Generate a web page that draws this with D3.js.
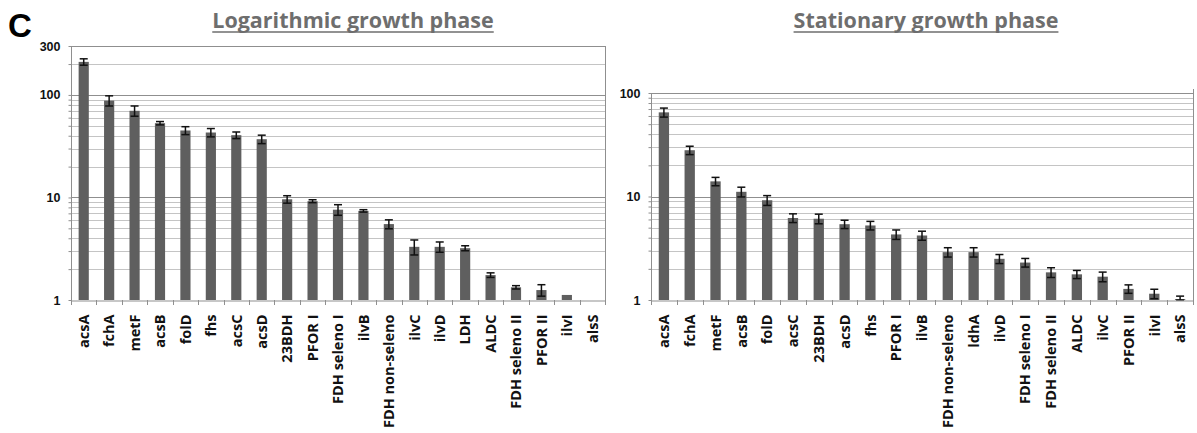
<!DOCTYPE html>
<html>
<head>
<meta charset="utf-8">
<script src="https://cdn.jsdelivr.net/npm/d3@7"></script>
<style>
  body { margin: 0; background: #fff; }
  svg { display: block; }
</style>
</head>
<body>
<script>
// Relative expression, log scale, two growth phases

const logGenes = ['acsA', 'fchA', 'metF', 'acsB', 'folD', 'fhs', 'acsC', 'acsD', '23BDH', 'PFOR I',
  'FDH seleno I', 'ilvB', 'FDH non-seleno', 'ilvC', 'ilvD', 'LDH', 'ALDC', 'FDH seleno II', 'PFOR II', 'ilvI', 'alsS'];
const logValues = [210, 88, 70, 53, 45, 43, 40.5, 37, 9.6, 9.2,
  7.6, 7.4, 5.5, 3.3, 3.3, 3.2, 1.75, 1.33, 1.25, 1.12, 1.0];
const logErrors = [15, 10, 8, 2, 4, 4, 3, 3.5, 0.8, 0.3,
  0.9, 0.2, 0.55, 0.55, 0.38, 0.18, 0.09, 0.05, 0.16, 0, 0];
const logTicks = [1, 10, 100, 300];

const statGenes = ['acsA', 'fchA', 'metF', 'acsB', 'folD', 'acsC', '23BDH', 'acsD', 'fhs', 'PFOR I',
  'ilvB', 'FDH non-seleno', 'ldhA', 'ilvD', 'FDH seleno I', 'FDH seleno II', 'ALDC', 'ilvC', 'PFOR II', 'ilvI', 'alsS'];
const statValues = [65, 28, 14, 11.1, 9.2, 6.2, 6.1, 5.4, 5.25, 4.3,
  4.2, 2.9, 2.9, 2.5, 2.3, 1.85, 1.77, 1.68, 1.28, 1.15, 1.02];
const statErrors = [6.5, 2.6, 1.3, 1.2, 1.0, 0.6, 0.65, 0.5, 0.5, 0.45,
  0.42, 0.3, 0.3, 0.25, 0.22, 0.2, 0.16, 0.18, 0.12, 0.12, 0.07];
const statTicks = [1, 10, 100];

const svg = d3.select('body').append('svg')
  .attr('width', 1197)
  .attr('height', 433);

// panel letter
svg.append('text')
  .attr('x', 8).attr('y', 37)
  .attr('font-family', 'Liberation Sans, Arial, sans-serif')
  .attr('font-weight', 'bold')
  .attr('font-size', 33)
  .text('C');

function drawPanel(p) {
  const x = d3.scaleBand()
    .domain(p.genes)
    .range([p.left, p.right])
    .paddingInner(0.6)
    .paddingOuter(0.3);
  const y = d3.scaleLog()
    .domain([1, p.max])
    .range([p.bottom, p.top]);

  const g = svg.append('g');

  // gridlines
  const grid = y.ticks().filter(t => t > 1 && t < p.max);
  g.selectAll('.grid')
    .data(grid)
    .enter().append('line')
    .attr('x1', p.left).attr('x2', p.right)
    .attr('y1', d => Math.round(y(d)) + 0.5).attr('y2', d => Math.round(y(d)) + 0.5)
    .attr('stroke', d => p.ticks.includes(d) ? '#8f8f8f' : '#c4c4c4')
    .attr('stroke-width', 1);

  // frame (top and right)
  g.append('line')
    .attr('x1', p.left).attr('x2', p.right)
    .attr('y1', Math.round(y(p.max)) + 0.5).attr('y2', Math.round(y(p.max)) + 0.5)
    .attr('stroke', '#8f8f8f');
  g.append('line')
    .attr('x1', p.right + 0.5).attr('x2', p.right + 0.5)
    .attr('y1', y(p.max) - p.frameExtra).attr('y2', p.bottom)
    .attr('stroke', '#8f8f8f');

  // bars
  g.selectAll('.bar')
    .data(p.genes)
    .enter().append('rect')
    .attr('x', d => x(d))
    .attr('width', x.bandwidth())
    .attr('y', (d, i) => y(p.values[i]))
    .attr('height', (d, i) => p.bottom - y(p.values[i]))
    .attr('fill', '#5f5f5f');

  // error bars
  const eb = g.selectAll('.err')
    .data(p.genes.map((d, i) => ({ gene: d, v: p.values[i], e: p.errors[i] })).filter(d => d.e > 0))
    .enter().append('g')
    .attr('transform', d => `translate(${x(d.gene) + x.bandwidth() / 2},0)`)
    .attr('stroke', '#111')
    .attr('stroke-width', 1.5);
  eb.append('line')
    .attr('y1', d => y(d.v + d.e)).attr('y2', d => y(Math.max(1, d.v - d.e)));
  eb.append('line')
    .attr('x1', -4).attr('x2', 4)
    .attr('y1', d => y(d.v + d.e)).attr('y2', d => y(d.v + d.e));
  eb.append('line')
    .attr('x1', -4).attr('x2', 4)
    .attr('y1', d => y(Math.max(1, d.v - d.e))).attr('y2', d => y(Math.max(1, d.v - d.e)));

  // y axis
  const yAxis = g.append('g')
    .attr('transform', `translate(${p.left + 0.5},0)`)
    .call(d3.axisLeft(y)
      .tickValues(y.ticks())
      .tickSize(3)
      .tickPadding(8)
      .tickFormat(d => p.ticks.includes(d) ? d : ''));
  yAxis.select('.domain').attr('stroke', '#8f8f8f').attr('d', `M0,${y(p.max)}V${p.bottom}`);
  yAxis.selectAll('.tick line').attr('stroke', '#8f8f8f');
  yAxis.selectAll('.tick text')
    .attr('font-family', 'Liberation Sans, Arial, sans-serif')
    .attr('font-weight', 'bold')
    .attr('font-size', 12.5)
    .attr('fill', '#111');

  // x axis
  const xAxis = g.append('g')
    .attr('transform', `translate(0,${p.bottom + 0.5})`)
    .call(d3.axisBottom(x).tickSize(0));
  xAxis.select('.domain').attr('stroke', '#8f8f8f');
  xAxis.selectAll('.tick text')
    .attr('transform', 'rotate(-90)')
    .attr('text-anchor', 'end')
    .attr('x', -14)
    .attr('y', 0)
    .attr('dy', '0.36em')
    .attr('font-family', 'Open Sans, sans-serif')
    .attr('font-weight', 'bold')
    .attr('font-size', 14.5)
    .attr('fill', '#111');

  // tick marks between categories
  g.selectAll('.xtick')
    .data(d3.range(p.genes.length + 1))
    .enter().append('line')
    .attr('x1', i => Math.round(p.left + i * x.step()) + 0.5)
    .attr('x2', i => Math.round(p.left + i * x.step()) + 0.5)
    .attr('y1', p.bottom).attr('y2', p.bottom + 5)
    .attr('stroke', '#8f8f8f');

  // title with underline
  const title = svg.append('text')
    .attr('x', p.titleX).attr('y', 28)
    .attr('text-anchor', 'middle')
    .attr('font-family', 'Open Sans, sans-serif')
    .attr('font-weight', 'bold')
    .attr('font-size', 21.5)
    .attr('fill', '#6e6e6e')
    .text(p.title);
  const bb = title.node().getBBox();
  svg.append('line')
    .attr('x1', bb.x).attr('x2', bb.x + bb.width)
    .attr('y1', 32).attr('y2', 32)
    .attr('stroke', '#6e6e6e')
    .attr('stroke-width', 1.5);
}

drawPanel({
  genes: logGenes, values: logValues, errors: logErrors, ticks: logTicks,
  max: 300, left: 71, right: 605, top: 46, bottom: 300, frameExtra: 0,
  title: 'Logarithmic growth phase', titleX: 353
});

drawPanel({
  genes: statGenes, values: statValues, errors: statErrors, ticks: statTicks,
  max: 100, left: 651, right: 1193, top: 93, bottom: 300, frameExtra: 4,
  title: 'Stationary growth phase', titleX: 926
});
</script>
</body>
</html>
